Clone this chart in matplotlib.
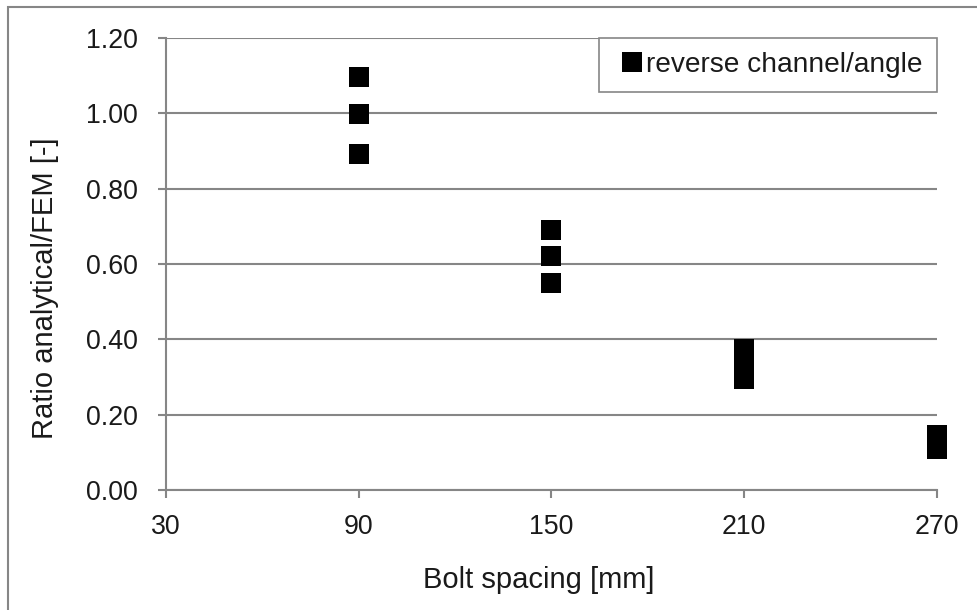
import matplotlib
matplotlib.use("Agg")
import matplotlib.pyplot as plt
from matplotlib.patches import Rectangle

plt.rcParams['font.family'] = ['Liberation Sans', 'DejaVu Sans']

# Bolt spacing [mm] and ratio analytical/FEM for each test case
spacing = [90, 90, 90, 150, 150, 150, 210, 210, 210, 270, 270, 270]
ratio = [1.096, 0.997, 0.893, 0.690, 0.621, 0.549, 0.375, 0.335, 0.295, 0.145, 0.127, 0.110]
series_label = "reverse channel/angle"

x_ticks = [30, 90, 150, 210, 270]
y_ticks = [0.0, 0.2, 0.4, 0.6, 0.8, 1.0, 1.2]

W, H, DPI = 978, 610, 100
fig = plt.figure(figsize=(W / DPI, H / DPI), dpi=DPI)
ax0, ax1, ay0, ay1 = 166, 937, 38, 490
ax = fig.add_axes([ax0 / W, 1 - ay1 / H, (ax1 - ax0) / W, (ay1 - ay0) / H])

grey = '#868686'
txt = '#1a1a1a'
fs = 19.3

ax.plot(spacing, ratio, linestyle='none', marker='s', markersize=13.7,
        color='black', markeredgewidth=0, label=series_label, zorder=3,
        clip_on=False)

ax.set_xlim(30, 270)
ax.set_ylim(0, 1.2)
ax.set_xticks(x_ticks)
ax.set_xticklabels([str(v) for v in x_ticks])
ax.set_yticks(y_ticks)
ax.set_yticklabels([f"{v:.2f}" for v in y_ticks])

ax.yaxis.grid(True, color=grey, linewidth=1.5)
ax.set_axisbelow(True)
for side in ('top', 'right'):
    ax.spines[side].set_visible(False)
for side in ('left', 'bottom'):
    ax.spines[side].set_color(grey)
    ax.spines[side].set_linewidth(1.5)

ax.tick_params(axis='y', direction='out', length=6, width=1.5, color=grey,
               pad=14, labelsize=fs, labelcolor=txt)
ax.tick_params(axis='x', direction='out', length=6, width=1.5, color=grey,
               pad=11, labelsize=fs, labelcolor=txt)

ax.set_xlabel("Bolt spacing [mm]", fontsize=21, color=txt)
ax.xaxis.set_label_coords((539 - ax0) / (ax1 - ax0), (ay1 - 566) / (ay1 - ay0))
ax.set_ylabel("Ratio analytical/FEM [-]", fontsize=21, color=txt)
ax.yaxis.set_label_coords((59 - ax0) / (ax1 - ax0), (ay1 - 288) / (ay1 - ay0))

leg = ax.legend(loc='upper right', bbox_to_anchor=(1.0, 1.0), borderaxespad=0,
                fancybox=False, framealpha=1, edgecolor=grey, fontsize=20.2,
                handlelength=1.4, handletextpad=-0.2, borderpad=0.5,
                labelcolor=txt)
leg.get_frame().set_linewidth(1.2)

# outer chart-area frame
fig.patches.append(Rectangle((8 / W, -0.1), 1.1, 1 - 7 / H + 0.1,
                             transform=fig.transFigure, fill=False,
                             edgecolor=grey, linewidth=1.5))

fig.savefig("out.png", dpi=DPI)
